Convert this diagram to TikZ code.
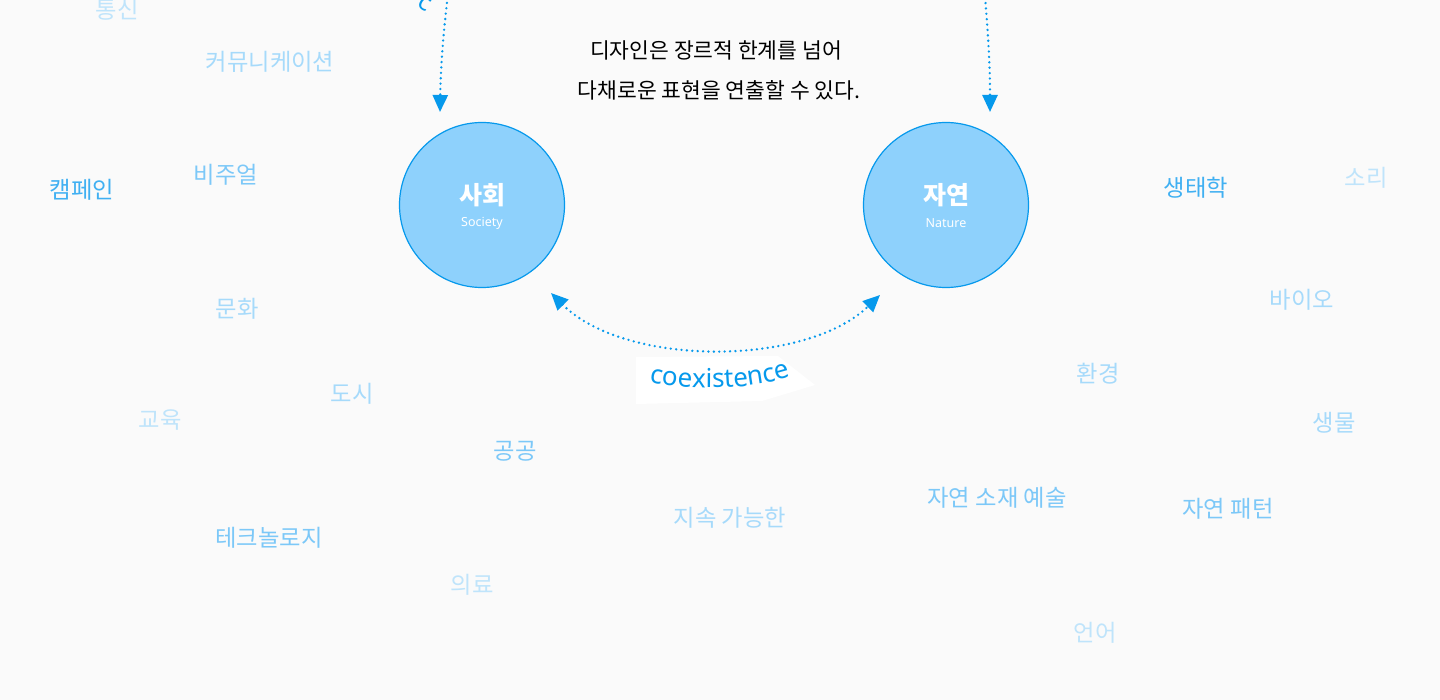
\documentclass[tikz,border=0pt]{standalone}
\usepackage{fontspec}
\setmainfont{Noto Sans CJK KR}
\newfontfamily\latinf{Noto Sans}
\usetikzlibrary{arrows.meta,decorations.text}
\definecolor{bg}{HTML}{FAFAFA}
\definecolor{cfill}{HTML}{8ED1FC}
\definecolor{cline}{HTML}{0699EC}
\definecolor{wa}{HTML}{40B0F2}
\definecolor{wb}{HTML}{7CC8F8}
\definecolor{wc}{HTML}{A6DAFA}
\definecolor{wd}{HTML}{BFE4FB}
\tikzset{
  circ/.style={circle,draw=cline,fill=cfill,line width=1.2pt,minimum size=165pt,inner sep=0pt,text=white,align=center},
  dotline/.style={cline,line width=2.6pt,dash pattern=on 0pt off 5.4pt,line cap=round,
     -{Triangle[length=17pt,width=15pt,line cap=butt,sep=0pt]}},
  dotboth/.style={cline,line width=2.6pt,dash pattern=on 0pt off 5.4pt,line cap=round,
     {Triangle[length=17pt,width=15pt]}-{Triangle[length=17pt,width=15pt]}},
  word/.style={font=\fontsize{23.3}{26}\selectfont,inner sep=0pt},
  title/.style={font=\fontsize{21.5}{26}\selectfont,inner sep=0pt,text=black},
  clabel/.style={font=\fontsize{25}{28}\selectfont\bfseries,text=white,inner sep=0pt},
  elabel/.style={font=\latinf\fontsize{12.5}{14}\selectfont,text=white,inner sep=0pt},
}
\begin{document}
\begin{tikzpicture}[x=1pt,y=-1pt]
\useasboundingbox[fill=bg] (0,0) rectangle (1440,700);
% circles
\node[circ] (soc) at (482,205) {};
\node[clabel] (socT) at (482,195) {사회};
\node[elabel] (socE) at (482,223) {Society};
\node[circ] (nat) at (946,205) {};
\node[clabel] (natT) at (946,195) {자연};
\node[elabel] (natE) at (946,223) {Nature};
% title
\node[title] (t1) at (716,50) {디자인은 장르적 한계를 넘어};
\node[title] (t2) at (719,90) {다채로운 표현을 연출할 수 있다.};
% top arrows (part of a large arc above the picture)
\coordinate (aL) at (440,112);
\coordinate (aR) at (990,112);
\coordinate (oL) at (452,-40);
\coordinate (oR) at (982,-40);
\draw[dotline] (oL) .. controls (446,10) and (441,50) .. (aL);
\draw[dotline] (oR) .. controls (986,10) and (990,50) .. (aR);
\node[text=cline,font=\latinf\fontsize{24}{26}\selectfont,rotate=-30,inner sep=0pt,anchor=base] (cc) at (421,9) {c};
% bottom arc
\coordinate (bL) at (551,293);
\coordinate (bR) at (880,295);
\draw[dotboth] (bL) .. controls (625,367) and (805,367) .. (bR);
\fill[white] (636,357) -- (778,356) -- (815,385) -- (762,401) -- (636,404) -- cycle;
\path[decorate,decoration={text along path,text align=center,
  text={|\latinf\fontsize{26}{28}\selectfont\color{cline}|coexistence}}]
  (644,381) .. controls (690,391) and (750,391) .. (796,375);
\coordinate (coex) at (720,380);
% words
\node[word,text=wd] (w1) at (117,10) {통신};
\node[word,text=wc] (w2) at (270,62) {커뮤니케이션};
\node[word,text=wa] (w3) at (82,190) {캠페인};
\node[word,text=wb] (w4) at (226,175) {비주얼};
\node[word,text=wc] (w5) at (237,309) {문화};
\node[word,text=wc] (w6) at (352,394) {도시};
\node[word,text=wd] (w7) at (160,420) {교육};
\node[word,text=wb] (w8) at (515,451) {공공};
\node[word,text=wb] (w9) at (269,538) {테크놀로지};
\node[word,text=wd] (w10) at (472,585) {의료};
\node[word,text=wc] (w11) at (730,518) {지속 가능한};
\node[word,text=wb] (w12) at (997,498) {자연 소재 예술};
\node[word,text=wb] (w13) at (1228,509) {자연 패턴};
\node[word,text=wd] (w14) at (1095,633) {언어};
\node[word,text=wa] (w15) at (1196,188) {생태학};
\node[word,text=wd] (w16) at (1366,178) {소리};
\node[word,text=wc] (w17) at (1302,300) {바이오};
\node[word,text=wc] (w18) at (1098,374) {환경};
\node[word,text=wc] (w19) at (1334,423) {생물};
\end{tikzpicture}
\end{document}
